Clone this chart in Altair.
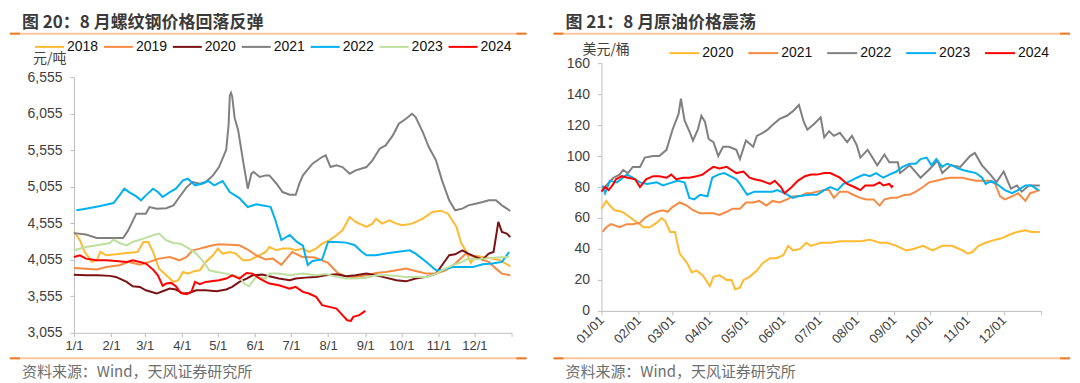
import json
import altair as alt
import pandas as pd

FONT_CJK = "Noto Sans CJK SC"
FONT_NUM = "Liberation Sans"

TITLE_L = "图 20：8 月螺纹钢价格回落反弹"
TITLE_R = "图 21：8 月原油价格震荡"
SOURCE = "资料来源：Wind，天风证券研究所"
UNIT_L = "元/吨"
UNIT_R = "美元/桶"

# month starts (day of year) and their labels
month_days = [0, 31, 59, 90, 120, 151, 181, 212, 243, 273, 304, 334, 365]
labels_l = ["1/1", "2/1", "3/1", "4/1", "5/1", "6/1", "7/1", "8/1", "9/1", "10/1", "11/1", "12/1", ""]
labels_r = ["01/01", "02/01", "03/01", "04/01", "05/01", "06/01", "07/01", "08/01", "09/01", "10/01", "11/01", "12/01", ""]
ticks_l = [3055, 3555, 4055, 4555, 5055, 5555, 6055, 6555]
ticks_r = [0, 20, 40, 60, 80, 100, 120, 140, 160]

# ---------------- rebar (元/吨) ----------------
rebar_years = ["2018", "2019", "2020", "2021", "2022", "2023", "2024"]
rebar_colors = ["#FFBA31", "#F58B42", "#7B1315", "#808080", "#00B0F0", "#BEDF9E", "#FF0000"]

r2018_day = [0, 5, 9, 15, 19, 22, 27, 35, 44, 53, 58, 62, 66, 71, 77, 83, 87, 91, 95, 101, 105, 110, 116, 120, 124, 130, 135, 141, 146, 152, 160, 163, 169, 174, 180, 185, 191, 196, 202, 207, 213, 219, 224, 230, 235, 244, 249, 252, 257, 263, 269, 274, 282, 291, 299, 306, 312, 319, 323, 327, 331, 335, 344, 355, 364]
r2018_val = [4440, 4322, 4162, 4026, 4048, 4162, 4117, 4130, 4149, 4162, 4299, 4299, 4162, 3934, 3843, 3752, 3775, 3889, 3866, 3903, 3912, 4026, 4117, 4208, 4140, 4162, 4140, 4048, 4048, 4094, 4162, 4230, 4185, 4208, 4208, 4185, 4208, 4162, 4208, 4276, 4322, 4390, 4459, 4641, 4573, 4504, 4550, 4618, 4550, 4595, 4550, 4527, 4550, 4618, 4709, 4727, 4686, 4508, 4285, 4175, 4012, 4108, 4085, 4053, 3965]

r2019_day = [0, 10, 19, 27, 38, 46, 55, 63, 71, 80, 88, 94, 99, 105, 110, 116, 121, 130, 138, 145, 152, 160, 166, 173, 182, 190, 201, 212, 220, 228, 235, 244, 252, 260, 269, 277, 285, 294, 302, 310, 318, 327, 333, 338, 346, 352, 357, 364]
r2019_val = [3944, 3934, 3921, 3957, 3980, 4026, 3989, 4026, 4071, 4094, 4048, 4094, 4185, 4208, 4230, 4253, 4267, 4262, 4253, 4194, 4117, 4058, 4071, 3985, 4162, 4098, 4085, 4012, 3875, 3820, 3821, 3843, 3875, 3889, 3912, 3934, 3903, 3866, 3866, 3912, 4003, 4140, 4103, 4071, 4026, 3934, 3866, 3843]

r2020_day = [0, 10, 20, 30, 35, 44, 49, 55, 60, 69, 74, 80, 85, 91, 96, 102, 110, 119, 127, 132, 138, 144, 149, 157, 163, 171, 180, 185, 193, 202, 210, 219, 227, 235, 244, 252, 260, 269, 277, 285, 294, 302, 307, 313, 318, 324, 329, 335, 341, 346, 350, 354, 357, 361, 364]
r2020_val = [3852, 3843, 3843, 3835, 3821, 3752, 3693, 3684, 3638, 3593, 3625, 3661, 3648, 3593, 3602, 3638, 3638, 3625, 3648, 3684, 3752, 3798, 3843, 3852, 3830, 3798, 3775, 3798, 3811, 3821, 3843, 3857, 3830, 3843, 3866, 3843, 3811, 3775, 3760, 3798, 3821, 3866, 3980, 4117, 4130, 4185, 4140, 4094, 4060, 4140, 4162, 4573, 4436, 4413, 4367]

r2021_day = [0, 10, 19, 30, 41, 45, 48, 52, 60, 63, 69, 77, 83, 88, 94, 99, 105, 110, 116, 121, 127, 129, 130, 131, 132, 134, 137, 141, 145, 148, 150, 155, 160, 163, 169, 174, 180, 185, 188, 191, 199, 207, 210, 214, 219, 224, 230, 235, 244, 249, 255, 260, 266, 271, 277, 282, 285, 291, 296, 302, 307, 313, 318, 324, 329, 335, 341, 346, 352, 357, 364]
r2021_val = [4420, 4400, 4354, 4354, 4354, 4450, 4550, 4686, 4686, 4777, 4755, 4760, 4800, 4914, 5050, 5119, 5096, 5119, 5210, 5324, 5560, 5900, 6300, 6340, 6290, 6000, 5826, 5416, 5028, 5233, 5256, 5188, 5210, 5210, 5096, 4982, 4946, 4946, 5096, 5210, 5370, 5461, 5484, 5324, 5347, 5324, 5233, 5279, 5324, 5415, 5575, 5620, 5757, 5917, 5985, 6054, 6009, 5803, 5598, 5416, 5142, 4869, 4732, 4755, 4800, 4823, 4846, 4869, 4869, 4800, 4723]

r2022_day = [2, 10, 22, 33, 38, 42, 46, 52, 56, 60, 66, 70, 74, 80, 85, 91, 95, 101, 107, 112, 117, 124, 130, 138, 145, 152, 160, 164, 168, 173, 180, 186, 191, 195, 199, 207, 212, 219, 227, 234, 240, 244, 252, 260, 269, 280, 285, 294, 302, 307, 316, 324, 333, 341, 349, 357, 363]
r2022_val = [4732, 4755, 4791, 4832, 4937, 5028, 4982, 4923, 4869, 4937, 5028, 4982, 4914, 4982, 5028, 5142, 5165, 5074, 5096, 5133, 5074, 5133, 4982, 4900, 4777, 4814, 4790, 4780, 4600, 4326, 4395, 4300, 4250, 3985, 4040, 4060, 4300, 4300, 4290, 4258, 4166, 4117, 4117, 4140, 4162, 4185, 4140, 4026, 3912, 3912, 3957, 3957, 3957, 3994, 4003, 4026, 4162]

r2023_day = [0, 10, 22, 30, 33, 38, 44, 49, 58, 66, 71, 77, 83, 89, 96, 102, 107, 113, 119, 127, 132, 138, 142, 146, 152, 160, 163, 171, 180, 191, 202, 210, 219, 227, 235, 244, 252, 260, 269, 277, 285, 294, 302, 307, 313, 318, 324, 329, 335, 343, 352, 363]
r2023_val = [4185, 4230, 4262, 4285, 4331, 4285, 4253, 4299, 4345, 4390, 4413, 4322, 4285, 4276, 4208, 4140, 4048, 3912, 3889, 3866, 3843, 3821, 3730, 3693, 3821, 3798, 3866, 3866, 3843, 3866, 3843, 3860, 3821, 3798, 3798, 3810, 3843, 3843, 3835, 3821, 3821, 3821, 3866, 3912, 3957, 3994, 4026, 4071, 4060, 4071, 4085, 4094]

r2024_day = [0, 5, 10, 19, 27, 35, 44, 49, 55, 60, 66, 70, 74, 77, 81, 85, 89, 94, 98, 101, 105, 110, 116, 121, 127, 132, 138, 144, 149, 155, 160, 163, 171, 180, 185, 191, 196, 202, 207, 213, 219, 224, 228, 231, 233, 238, 243]
r2024_val = [4094, 4117, 4071, 4048, 4048, 4039, 4026, 4048, 4026, 4003, 3921, 3843, 3700, 3730, 3739, 3693, 3602, 3584, 3616, 3752, 3721, 3752, 3766, 3775, 3798, 3843, 3798, 3875, 3866, 3798, 3752, 3730, 3707, 3661, 3684, 3616, 3593, 3548, 3434, 3411, 3388, 3297, 3228, 3219, 3274, 3297, 3356]

# ---------------- crude oil (美元/桶) ----------------
oil_years = ["2020", "2021", "2022", "2023", "2024"]
oil_colors = ["#FFBA31", "#F58B42", "#808080", "#00B0F0", "#FF0000"]

o2020_day = [0, 4, 7, 11, 17, 21, 26, 30, 35, 40, 46, 50, 53, 57, 61, 65, 71, 75, 79, 84, 90, 93, 98, 104, 108, 111, 115, 118, 123, 129, 134, 140, 145, 151, 155, 159, 165, 170, 174, 182, 190, 198, 207, 215, 223, 231, 237, 245, 253, 259, 267, 275, 283, 291, 300, 304, 308, 313, 319, 327, 333, 338, 345, 352, 357, 364]
o2020_val = [66, 71, 68, 65, 64, 62, 59, 57, 54, 54, 57, 60, 58, 51, 51, 37, 31, 25, 26, 23, 16, 22, 23, 20, 20, 14, 15, 20, 22, 26, 31, 34, 34, 36, 42, 39, 40, 44, 42, 44, 44, 45, 45, 45, 46, 44, 44, 42, 39, 40, 42, 39, 42, 42, 39, 37, 38, 42, 44, 46, 47, 49, 51, 52, 51, 51]

o2021_day = [1, 4, 8, 15, 21, 26, 32, 36, 40, 46, 51, 55, 59, 65, 71, 76, 82, 87, 93, 98, 104, 109, 115, 120, 126, 131, 137, 142, 148, 154, 159, 165, 170, 174, 179, 185, 189, 193, 198, 204, 209, 215, 220, 226, 231, 235, 241, 245, 252, 256, 261, 267, 272, 278, 283, 289, 294, 300, 305, 311, 316, 322, 327, 331, 335, 341, 346, 352, 356, 364]
o2021_val = [51, 54, 56, 54, 56, 56, 57, 60, 62, 64, 65, 64, 67, 70, 68, 65, 63, 63, 63, 62, 64, 66, 66, 70, 70, 71, 68, 71, 70, 72, 74, 74, 76, 76, 77, 78, 78, 73, 77, 77, 75, 73, 72, 72, 68, 72, 73, 73, 75, 75, 77, 80, 83, 84, 85, 86, 86, 86, 85, 84, 84, 84, 82, 74, 72, 74, 76, 71, 76, 78]

o2022_day = [1, 4, 10, 15, 18, 22, 26, 32, 36, 43, 48, 54, 59, 64, 66, 69, 73, 76, 80, 83, 86, 89, 93, 97, 101, 106, 112, 115, 120, 126, 129, 134, 138, 142, 148, 154, 159, 164, 168, 171, 177, 182, 185, 189, 193, 198, 204, 208, 212, 215, 221, 225, 229, 235, 239, 246, 248, 256, 265, 273, 279, 283, 290, 298, 306, 310, 316, 323, 328, 334, 340, 345, 349, 355, 364]
o2022_val = [78, 81, 86, 88, 91, 89, 93, 93, 99, 100, 100, 104, 117, 127, 137, 123, 116, 110, 117, 126, 122, 111, 109, 100, 106, 106, 104, 98, 110, 106, 113, 115, 117, 120, 124, 126, 129, 133, 122, 117, 121, 125, 112, 116, 113, 115, 109, 113, 107, 99, 104, 99, 94, 101, 96, 96, 89, 94, 86, 92, 97, 89, 94, 93, 100, 102, 94, 88, 83, 90, 79, 81, 77, 81, 81]

o2023_day = [1, 3, 7, 13, 21, 26, 32, 38, 46, 51, 55, 63, 69, 73, 77, 82, 88, 92, 97, 102, 107, 112, 115, 121, 127, 135, 142, 146, 152, 159, 163, 173, 179, 185, 190, 196, 201, 207, 212, 218, 223, 228, 234, 239, 245, 250, 256, 261, 265, 270, 274, 278, 283, 287, 291, 296, 300, 305, 311, 316, 319, 324, 330, 335, 341, 346, 352, 357, 361, 363]
o2023_val = [81, 76, 84, 83, 88, 86, 83, 82, 83, 81, 82, 84, 83, 73, 72, 75, 74, 86, 88, 89, 87, 85, 82, 75, 77, 77, 77, 78, 76, 73, 74, 75, 75, 78, 80, 78, 82, 84, 86, 88, 87, 89, 86, 88, 90, 93, 95, 95, 98, 99, 94, 98, 93, 95, 94, 92, 91, 90, 89, 86, 82, 84, 81, 78, 76, 78, 81, 81, 79, 78]

o2024_day = [0, 3, 6, 10, 12, 17, 22, 28, 32, 37, 43, 48, 54, 58, 62, 68, 73, 79, 84, 89, 93, 98, 104, 108, 112, 118, 123, 127, 133, 140, 144, 149, 152, 158, 163, 169, 174, 179, 185, 190, 198, 204, 210, 215, 219, 226, 231, 234, 239, 241, 242]
o2024_val = [77, 80, 78, 82, 85, 87, 86, 85, 80, 85, 87, 87, 86, 88, 85, 86, 86, 87, 88, 91, 93, 92, 93, 91, 89, 90, 86, 85, 84, 82, 84, 80, 76, 80, 84, 87, 88, 88, 89, 89, 86, 82, 80, 78, 81, 81, 83, 81, 82, 80, 81]

rebar_series = {
    "2018": (r2018_day, r2018_val), "2019": (r2019_day, r2019_val),
    "2020": (r2020_day, r2020_val), "2021": (r2021_day, r2021_val),
    "2022": (r2022_day, r2022_val), "2023": (r2023_day, r2023_val),
    "2024": (r2024_day, r2024_val),
}
oil_series = {
    "2020": (o2020_day, o2020_val), "2021": (o2021_day, o2021_val),
    "2022": (o2022_day, o2022_val), "2023": (o2023_day, o2023_val),
    "2024": (o2024_day, o2024_val),
}


def to_frame(series):
    rows = []
    for yr, (days, vals) in series.items():
        for d, v in zip(days, vals):
            rows.append({"year": yr, "day": d, "value": v})
    return pd.DataFrame(rows)


df_rebar = to_frame(rebar_series)
df_oil = to_frame(oil_series)

AXIS_COLOR = "#BFBFBF"
LABEL_COLOR = "#404040"
ORANGE_LIGHT = "#F9C8A0"
ORANGE_DARK = "#EE7D2B"


def label_expr(labels):
    return f"{json.dumps(labels)}[indexof({json.dumps(month_days)}, datum.value)]"


def deco(dx0, dx1, title, unit, unit_x, unit_y, anchor=False):
    one = pd.DataFrame({"k": [0]})
    base = alt.Chart(one)
    layers = []
    if anchor:
        # invisible frame marker fixing the top-left corner of the picture
        layers.append(base.mark_rule(color="white", opacity=0, strokeWidth=2).encode(
            x=alt.value(-65), x2=alt.value(-60), y=alt.value(-54)))
    for yy in (-29.5, 295.5):
        layers.append(base.mark_rule(color=ORANGE_LIGHT, strokeWidth=2).encode(
            x=alt.value(dx0), x2=alt.value(dx1), y=alt.value(yy)))
        layers.append(base.mark_rule(color=ORANGE_DARK, strokeWidth=2).encode(
            x=alt.value(dx0), x2=alt.value(dx0 + 10), y=alt.value(yy)))
        layers.append(base.mark_rule(color=ORANGE_DARK, strokeWidth=2).encode(
            x=alt.value(dx1 - 10), x2=alt.value(dx1), y=alt.value(yy)))
    layers.append(base.mark_text(text=title, font=FONT_CJK, fontSize=17, fontWeight="bold",
                                 color="#3A3A3A", align="left", baseline="middle").encode(
        x=alt.value(dx0 + 12), y=alt.value(-40)))
    layers.append(base.mark_text(text=SOURCE, font=FONT_CJK, fontSize=15,
                                 color="#6E6E6E", align="left", baseline="middle").encode(
        x=alt.value(dx0 + 12), y=alt.value(309)))
    layers.append(base.mark_text(text=unit, font=FONT_CJK, fontSize=14,
                                 color=LABEL_COLOR, align="left", baseline="middle").encode(
        x=alt.value(unit_x), y=alt.value(unit_y)))
    return layers


# ---------------- left panel ----------------
lines_l = alt.Chart(df_rebar).mark_line(strokeWidth=2).encode(
    x=alt.X("day:Q", scale=alt.Scale(domain=[0, 365], nice=False, zero=False),
            axis=alt.Axis(values=month_days, labelExpr=label_expr(labels_l), title=None, grid=False,
                          domainColor=AXIS_COLOR, tickColor=AXIS_COLOR, tickSize=4,
                          labelFont=FONT_NUM, labelFontSize=13, labelColor=LABEL_COLOR,
                          labelPadding=3, labelFlush=False, labelOverlap=False)),
    y=alt.Y("value:Q", scale=alt.Scale(domain=[3055, 6555], range=[270, 14], nice=False, zero=False),
            axis=alt.Axis(values=ticks_l, format=",.0f", title=None, grid=False,
                          domainColor=AXIS_COLOR, tickColor=AXIS_COLOR, tickSize=4,
                          labelFont=FONT_NUM, labelFontSize=14, labelColor=LABEL_COLOR,
                          labelPadding=8, labelFlush=False, labelOverlap=False)),
    color=alt.Color("year:N", scale=alt.Scale(domain=rebar_years, range=rebar_colors),
                    legend=alt.Legend(orient="none", legendX=-40, legendY=-32, direction="horizontal",
                                      title=None, symbolType="stroke", symbolSize=841,
                                      symbolStrokeWidth=2, labelFont=FONT_NUM, labelFontSize=14,
                                      labelColor="#111111", labelOffset=2, columnPadding=1,
                                      padding=0)),
)
left = alt.layer(lines_l, *deco(-64, 453, TITLE_L, UNIT_L, -41, -4, anchor=True)).properties(width=438, height=270)

# ---------------- right panel ----------------
lines_r = alt.Chart(df_oil).mark_line(strokeWidth=2).encode(
    x=alt.X("day:Q", scale=alt.Scale(domain=[0, 365], nice=False, zero=False),
            axis=alt.Axis(values=month_days, labelExpr=label_expr(labels_r), title=None, grid=False,
                          domainColor=AXIS_COLOR, tickColor=AXIS_COLOR, tickSize=4, offset=-22,
                          labelFont=FONT_NUM, labelFontSize=13, labelColor=LABEL_COLOR,
                          labelAngle=-45, labelAlign="right", labelBaseline="middle",
                          labelPadding=3, labelFlush=False, labelOverlap=False)),
    y=alt.Y("value:Q", scale=alt.Scale(domain=[0, 160], range=[248, 0], nice=False, zero=True),
            axis=alt.Axis(values=ticks_r, format="d", title=None, grid=False,
                          domainColor=AXIS_COLOR, tickColor=AXIS_COLOR, tickSize=4,
                          labelFont=FONT_NUM, labelFontSize=14, labelColor=LABEL_COLOR,
                          labelPadding=8, labelFlush=False, labelOverlap=False)),
    color=alt.Color("year:N", scale=alt.Scale(domain=oil_years, range=oil_colors),
                    legend=alt.Legend(orient="none", legendX=67, legendY=-26, direction="horizontal",
                                      title=None, symbolType="stroke", symbolSize=900,
                                      symbolStrokeWidth=2, labelFont=FONT_NUM, labelFontSize=14,
                                      labelColor="#111111", labelOffset=2, columnPadding=10,
                                      padding=0)),
)
right = alt.layer(lines_r, *deco(-48, 469, TITLE_R, UNIT_R, -19, -13)).properties(width=440, height=270)

chart = alt.hconcat(left, right, spacing=90, bounds="flush").resolve_scale(
    color="independent"
).properties(
    padding=0,
    background="white",
).configure_view(stroke="transparent")

chart.save("out.html", embed_options={"renderer": "svg", "actions": False})
